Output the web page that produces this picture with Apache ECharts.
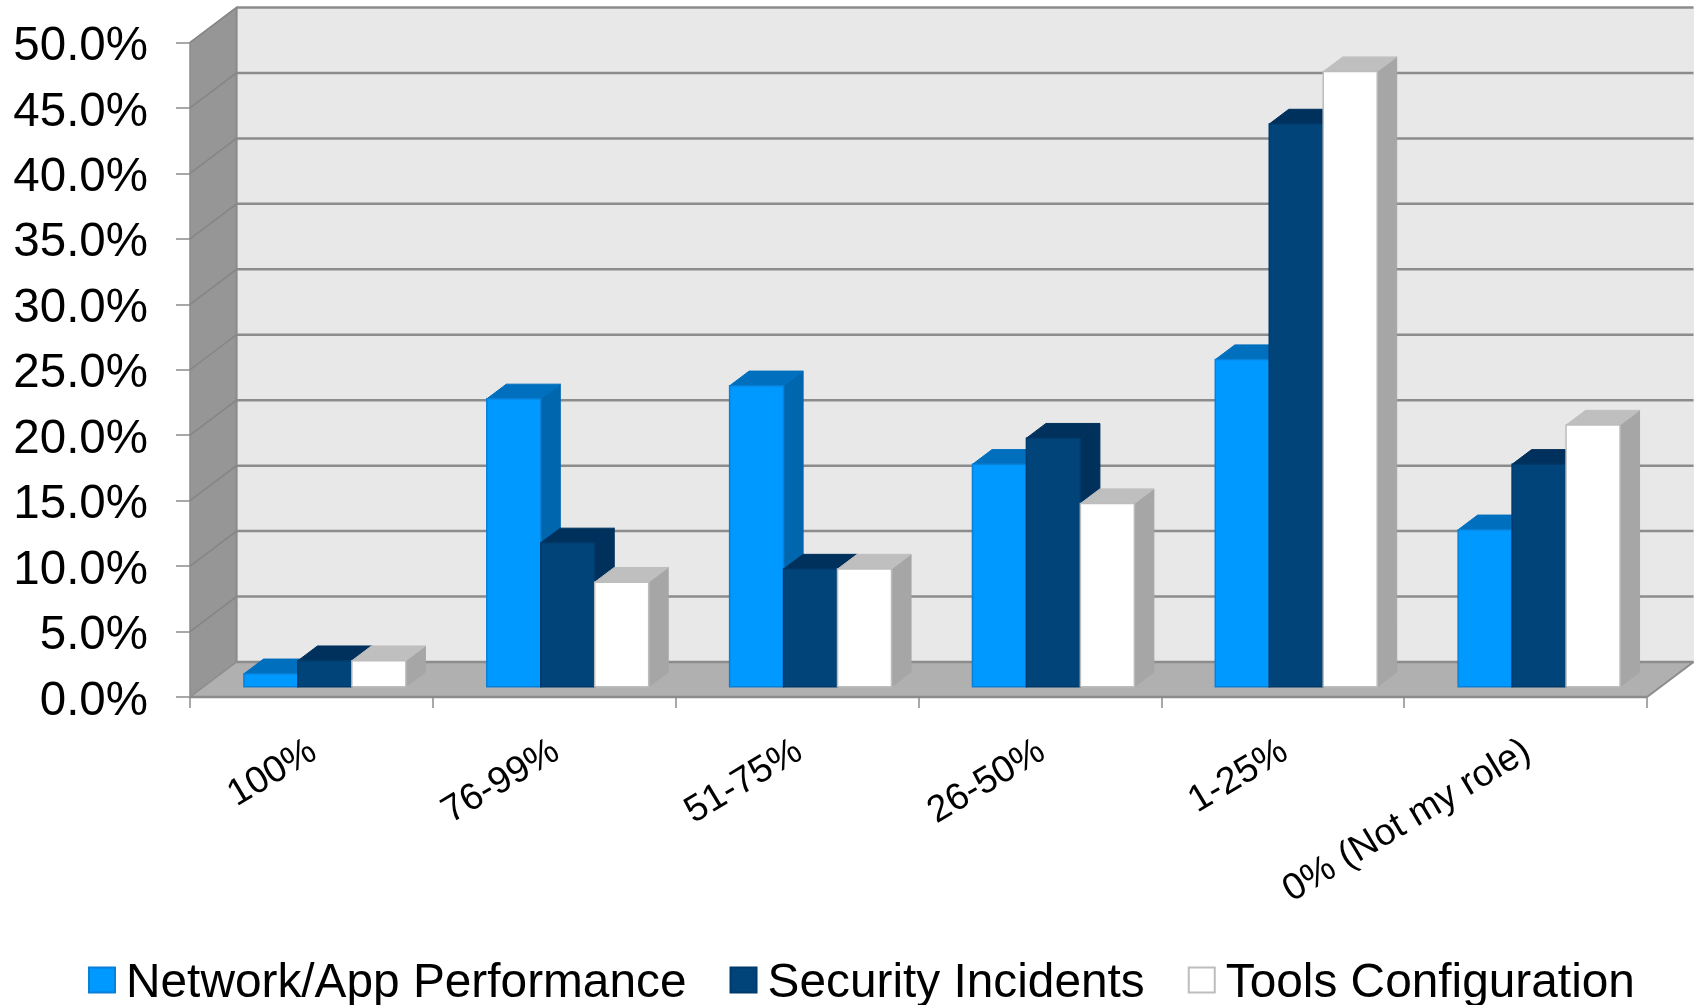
<!DOCTYPE html>
<html>
<head>
<meta charset="utf-8">
<style>html,body{margin:0;padding:0;background:#fff}#chart{width:1696px;height:1005px}</style>
<script src="https://cdn.jsdelivr.net/npm/echarts@6/dist/echarts.min.js"></script>
</head>
<body>
<div id="chart"></div>
<script>
const categories = ['100%', '76-99%', '51-75%', '26-50%', '1-25%', '0% (Not my role)'];
const networkValues = [1, 22, 23, 17, 25, 12];
const securityValues = [2, 11, 9, 19, 43, 17];
const toolsValues = [2, 8, 9, 14, 47, 20];
const gridTicks = [0, 5, 10, 15, 20, 25, 30, 35, 40, 45, 50];

// Oblique projection of the box: how far the back wall sits from the front plane.
const DEPTH_X = 46.5;
const DEPTH_Y = 35;
const BAR_NEAR = 0.29;
const BAR_DEPTH = 0.42;
const GAP_WIDTH = 0.5;
const FONT = '"Liberation Sans", Arial, sans-serif';

const palettes = {
  network: { front: '#0099ff', edge: '#0a7fd6', top: '#006fbe', side: '#0066ad' },
  security: { front: '#00447a', edge: '#003a6a', top: '#00305c', side: '#00305c' },
  tools: { front: '#ffffff', edge: '#bdbdbd', top: '#bfbfbf', side: '#a6a6a6' }
};

function poly(points, fill, stroke, lineWidth) {
  return {
    type: 'polygon',
    shape: { points },
    style: { fill, stroke: stroke || fill, lineWidth: lineWidth === undefined ? 1 : lineWidth }
  };
}

function line(a, b, stroke, lineWidth) {
  return {
    type: 'line',
    shape: { x1: a[0], y1: a[1], x2: b[0], y2: b[1] },
    style: { stroke, lineWidth }
  };
}

// The walls and floor come first, then one back-wall rule and wall diagonal per tick.
function renderFrame(params, api) {
  const sys = params.coordSys;
  const left = sys.x;
  const right = sys.x + sys.width;
  const value = api.value(0);
  const y = api.coord([0, value])[1];
  const children = [];
  if (value === 0) {
    const top = api.coord([0, 50])[1];
    children.push(poly([[left + DEPTH_X, top - DEPTH_Y], [right + DEPTH_X, top - DEPTH_Y],
      [right + DEPTH_X, y - DEPTH_Y], [left + DEPTH_X, y - DEPTH_Y]], '#e8e8e8'));
    children.push(poly([[left, top], [left + DEPTH_X, top - DEPTH_Y],
      [left + DEPTH_X, y - DEPTH_Y], [left, y]], '#969696', '#8c8c8c', 1.5));
    children.push(poly([[left, y], [left + DEPTH_X, y - DEPTH_Y],
      [right + DEPTH_X, y - DEPTH_Y], [right, y]], '#b0b0b0'));
    children.push(line([left, y], [right, y], '#8c8c8c', 2.5));
    children.push(line([right, y], [right + DEPTH_X, y - DEPTH_Y], '#8c8c8c', 2));
    children.push(line([left, y], [left + DEPTH_X, y - DEPTH_Y], '#8c8c8c', 1.5));
    children.push(line([left + DEPTH_X, top - DEPTH_Y], [left + DEPTH_X, y - DEPTH_Y], '#8c8c8c', 2));
  }
  children.push(line([left + DEPTH_X, y - DEPTH_Y], [right + DEPTH_X, y - DEPTH_Y], '#8c8c8c', 2.5));
  if (value !== 0) {
    children.push(line([left, y], [left + DEPTH_X, y - DEPTH_Y], '#858585', 1.5));
  }
  return { type: 'group', children };
}

// A bar as three faces, shifted into the box depth from its axis position.
function barRenderer(seriesOffset, colors) {
  return function (params, api) {
    const index = api.value(0);
    const base = api.coord([index, 0]);
    const tip = api.coord([index, api.value(1)]);
    const width = api.size([1, 0])[0] / (3 + 2 * GAP_WIDTH + 0.5);
    const shiftX = DEPTH_X * BAR_NEAR;
    const shiftY = DEPTH_Y * BAR_NEAR;
    const x0 = base[0] + shiftX + seriesOffset * width;
    const x1 = x0 + width;
    const y0 = base[1] - shiftY;
    const y1 = tip[1] - shiftY;
    const dx = DEPTH_X * BAR_DEPTH;
    const dy = DEPTH_Y * BAR_DEPTH;
    return {
      type: 'group',
      children: [
        poly([[x1, y1], [x1 + dx, y1 - dy], [x1 + dx, y0 - dy], [x1, y0]], colors.side),
        poly([[x0, y1], [x0 + dx, y1 - dy], [x1 + dx, y1 - dy], [x1, y1]], colors.top),
        poly([[x0, y1], [x1, y1], [x1, y0], [x0, y0]], colors.front, colors.edge, 1.5)
      ]
    };
  };
}

function barSeries(name, values, seriesOffset, colors, z) {
  return {
    name,
    type: 'custom',
    z,
    clip: false,
    itemStyle: { color: colors.front, borderColor: colors.edge },
    encode: { x: 0, y: 1 },
    data: values.map((v, i) => [i, v]),
    renderItem: barRenderer(seriesOffset, colors)
  };
}

const chart = echarts.init(document.getElementById('chart'), null, { renderer: 'canvas' });
chart.setOption({
  animation: false,
  backgroundColor: '#ffffff',
  textStyle: { fontFamily: FONT },
  grid: { left: 190, right: 49, top: 42.5, bottom: 308, containLabel: false },
  xAxis: {
    type: 'category',
    data: categories,
    axisLine: { show: false },
    axisTick: { show: true, alignWithLabel: false, length: 11, lineStyle: { color: '#8c8c8c', width: 1.5 } },
    axisLabel: {
      rotate: 31,
      margin: 48,
      interval: 0,
      formatter: v => `{c|${v}}`,
      rich: { c: { fontSize: 37.5, color: '#000000', fontFamily: FONT, padding: [8, 0, 0, 0] } }
    },
    z: 1
  },
  yAxis: {
    type: 'value',
    min: 0,
    max: 50,
    interval: 5,
    splitLine: { show: false },
    axisLine: { show: false },
    axisTick: { show: true, length: 14, lineStyle: { color: '#8c8c8c', width: 1.5 } },
    axisLabel: {
      margin: 42,
      formatter: v => `{v|${v.toFixed(1)}%}`,
      rich: { v: { fontSize: 47.5, color: '#000000', fontFamily: FONT, padding: [9, 0, 0, 0] } }
    }
  },
  legend: {
    left: 83,
    top: 955,
    itemWidth: 26,
    itemHeight: 25,
    itemGap: 43,
    selectedMode: false,
    formatter: name => `{t|${name}}`,
    textStyle: {
      rich: { t: { fontSize: 47.8, color: '#000000', fontFamily: FONT, padding: [8, 0, 0, 6] } }
    },
    data: [
      { name: 'Network/App Performance', icon: 'rect', itemStyle: { color: palettes.network.front, borderColor: palettes.network.edge, borderWidth: 2 } },
      { name: 'Security Incidents', icon: 'rect', itemStyle: { color: palettes.security.front, borderColor: palettes.security.edge, borderWidth: 2 } },
      { name: 'Tools Configuration', icon: 'rect', itemStyle: { color: palettes.tools.front, borderColor: palettes.tools.edge, borderWidth: 2 } }
    ]
  },
  series: [
    {
      type: 'custom',
      z: 1,
      clip: false,
      silent: true,
      encode: { y: 0 },
      data: gridTicks.map(v => [v]),
      renderItem: renderFrame
    },
    barSeries('Network/App Performance', networkValues, -1.5, palettes.network, 2),
    barSeries('Security Incidents', securityValues, -0.5, palettes.security, 3),
    barSeries('Tools Configuration', toolsValues, 0.5, palettes.tools, 4)
  ]
});
</script>
</body>
</html>
